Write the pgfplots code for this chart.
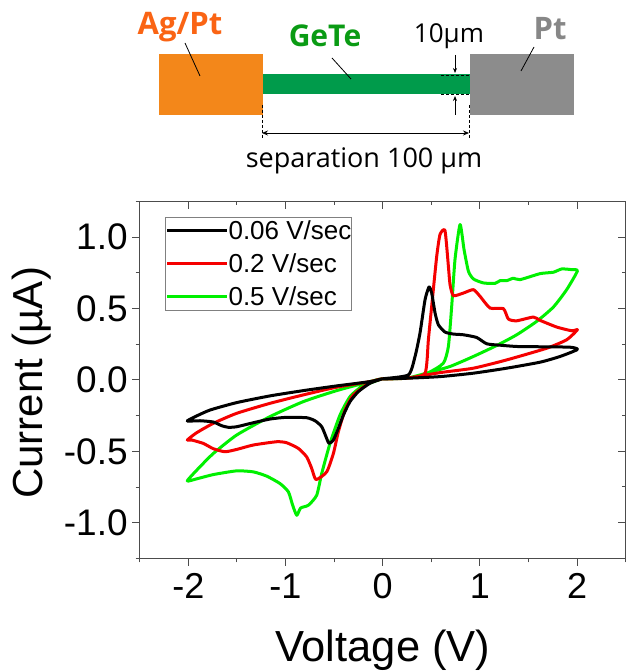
\documentclass[border=0pt]{standalone}
\usepackage{pgfplots}
\pgfplotsset{compat=1.18}
\usepackage{fontspec}
\setmainfont{Liberation Sans}
\newfontfamily\tah{Open Sans}
\usetikzlibrary{arrows.meta}
\definecolor{agc}{RGB}{243,135,26}
\definecolor{agt}{RGB}{250,100,20}
\definecolor{gete}{RGB}{0,155,75}
\definecolor{getet}{RGB}{10,155,20}
\definecolor{ptc}{RGB}{140,140,140}
\definecolor{ptt}{RGB}{135,135,135}
\definecolor{lg}{RGB}{0,240,0}
\definecolor{rd}{RGB}{245,0,0}
\pgfplotstableread{
V I
0.000 0.000
0.254 0.005
0.477 0.044
0.631 0.110
0.683 0.227
0.717 0.508
0.751 0.836
0.803 1.081
0.844 0.906
0.889 0.754
0.940 0.700
1.043 0.672
1.163 0.669
1.214 0.688
1.283 0.688
1.352 0.705
1.420 0.695
1.626 0.737
1.763 0.747
1.849 0.770
1.952 0.765
2.010 0.756
1.900 0.625
1.763 0.503
1.592 0.403
1.386 0.309
1.180 0.234
0.940 0.157
0.700 0.087
0.477 0.044
0.254 0.005
0.000 0.000
-0.123 -0.019
-0.466 -0.082
-0.809 -0.159
-1.152 -0.264
-1.495 -0.393
-1.735 -0.522
-1.889 -0.627
-2.003 -0.714
-1.907 -0.700
-1.735 -0.670
-1.495 -0.644
-1.324 -0.651
-1.186 -0.681
-1.049 -0.733
-0.963 -0.791
-0.919 -0.885
-0.877 -0.955
-0.837 -0.904
-0.758 -0.885
-0.672 -0.815
-0.620 -0.662
-0.535 -0.452
-0.432 -0.253
-0.329 -0.124
-0.209 -0.054
-0.054 -0.012
0.000 0.000
}\greendata
\pgfplotstableread{
V I
0.000 0.000
0.254 0.005
0.443 0.040
0.477 0.274
0.511 0.508
0.563 0.859
0.597 1.011
0.648 1.039
0.683 0.789
0.700 0.660
0.734 0.583
0.837 0.601
0.940 0.625
1.009 0.578
1.112 0.496
1.249 0.492
1.300 0.419
1.386 0.407
1.557 0.433
1.626 0.410
1.798 0.363
1.952 0.337
2.010 0.344
1.900 0.274
1.695 0.215
1.283 0.133
0.940 0.075
0.597 0.044
0.254 0.005
0.000 0.000
-0.123 -0.019
-0.466 -0.058
-0.809 -0.112
-1.152 -0.171
-1.495 -0.241
-1.735 -0.311
-1.907 -0.377
-2.003 -0.428
-1.958 -0.428
-1.838 -0.452
-1.735 -0.489
-1.615 -0.510
-1.495 -0.494
-1.324 -0.463
-1.083 -0.440
-0.981 -0.447
-0.860 -0.487
-0.775 -0.546
-0.723 -0.627
-0.679 -0.705
-0.569 -0.651
-0.500 -0.522
-0.449 -0.370
-0.380 -0.218
-0.294 -0.112
-0.123 -0.026
0.000 0.000
}\reddata
\pgfplotstableread{
V I
0.000 0.000
0.271 0.005
0.597 0.016
0.940 0.040
1.283 0.075
1.626 0.117
1.832 0.157
2.010 0.206
1.935 0.222
1.626 0.225
1.386 0.227
1.214 0.236
1.077 0.246
0.974 0.290
0.837 0.309
0.734 0.314
0.648 0.328
0.580 0.379
0.546 0.461
0.511 0.602
0.484 0.644
0.443 0.555
0.391 0.321
0.340 0.157
0.271 0.028
0.000 0.000
-0.123 -0.019
-0.466 -0.049
-0.809 -0.082
-1.152 -0.119
-1.495 -0.166
-1.769 -0.218
-1.924 -0.265
-2.003 -0.295
-1.872 -0.293
-1.735 -0.302
-1.649 -0.328
-1.581 -0.339
-1.495 -0.335
-1.324 -0.307
-1.152 -0.281
-0.981 -0.269
-0.775 -0.272
-0.689 -0.293
-0.620 -0.335
-0.569 -0.417
-0.545 -0.452
-0.500 -0.428
-0.449 -0.346
-0.397 -0.253
-0.329 -0.159
-0.243 -0.089
-0.123 -0.030
0.000 0.000
}\blackdata
\pgfplotsset{common/.style={
  at={(139.7pt,113.6pt)},anchor=south west,
  scale only axis,width=486pt,height=357pt,
  xmin=-2.5,xmax=2.5,ymin=-1.25,ymax=1.25,
  axis line style={line width=1.1pt,black!70},
  tick style={line width=1pt,black!70},
  xtick={-2,-1,0,1,2},minor xtick={-2.5,-1.5,-0.5,0.5,1.5,2.5},
  ytick={-1,-0.5,0,0.5,1},minor ytick={-1.25,-0.75,-0.25,0.25,0.75,1.25},
  major tick length=7.5pt,minor tick length=4pt,
}}
\begin{document}
\begin{tikzpicture}[x=1pt,y=1pt]
\begin{axis}[common,
  tick align=inside,
  axis x line*=top,axis y line*=right,
  xticklabels={},yticklabels={},
]
\addplot[draw=none,forget plot] coordinates {(0,0)};
\end{axis}
\begin{axis}[common,
  tick align=outside,
  axis x line*=bottom,axis y line*=left,
  /pgf/number format/assume math mode=true,
  /pgf/number format/fixed,/pgf/number format/fixed zerofill,
  /pgf/number format/precision=1,
  yticklabel style={font=\fontsize{37}{37}\selectfont,xshift=-1pt},
  xticklabel style={font=\fontsize{36}{36}\selectfont,yshift=-4pt,/pgf/number format/precision=0,/pgf/number format/fixed zerofill=false},
  xlabel={Voltage (V)},ylabel={Current (µA)},
  xlabel style={font=\fontsize{43.5}{43.5}\selectfont,yshift=-24pt},
  ylabel style={font=\fontsize{42}{42}\selectfont,yshift=6pt,xshift=-3pt},
  legend style={at={(25.5pt,341.5pt)},anchor=north west,draw=black!50,line width=.7pt,
    font=\fontsize{26}{26}\selectfont,inner xsep=0pt,inner ysep=3.5pt,row sep=13pt,fill=none,
    nodes={inner ysep=0pt,inner xsep=0pt,text height=19pt,text depth=1pt},
    /tikz/every even column/.append style={column sep=10pt}},
  legend cell align=left,
  legend image code/.code={\draw[#1,line width=3pt] (0pt,0pt)--(60pt,0pt);},
]
\addlegendimage{black}\addlegendentry{0.06 V/sec}
\addlegendimage{rd}\addlegendentry{0.2 V/sec}
\addlegendimage{lg}\addlegendentry{0.5 V/sec}
\addplot[lg,line width=3pt,line join=round,smooth,tension=0.35,forget plot,xshift=-.7pt,yshift=1pt] table[x=V,y=I]{\greendata};
\addplot[rd,line width=3pt,line join=round,smooth,tension=0.35,forget plot,xshift=-.7pt,yshift=1pt] table[x=V,y=I]{\reddata};
\addplot[black,line width=3pt,line join=round,smooth,tension=0.35,forget plot,xshift=-.7pt,yshift=1pt] table[x=V,y=I]{\blackdata};
\end{axis}
% schematic
\fill[agc] (158.5,557) rectangle (262.5,618);
\fill[gete] (262.5,577.5) rectangle (470,598);
\fill[ptc] (470,557) rectangle (574,618);
\draw[line width=.8pt] (185,629)--(200,596);
\draw[line width=.8pt] (332,614)--(351,593);
\draw[line width=.8pt] (534,625)--(521,601);
\draw[line width=.6pt,densely dashed] (441,597)--(470,597) (441,577.5)--(470,577.5);
\draw[-{Stealth[length=5pt,width=4pt]},line width=.7pt] (455,617)--(455,599);
\draw[-{Stealth[length=5pt,width=4pt]},line width=.7pt] (455,557)--(455,576);
\draw[line width=.6pt,densely dashed] (262,567)--(262,533) (469,567)--(469,533);
\draw[{Stealth[length=6pt,width=5pt]}-{Stealth[length=6pt,width=5pt]},line width=.8pt] (262,539)--(469,539);
\node[anchor=base,inner sep=0pt,font=\tah\fontsize{27}{27}\selectfont] at (364,504) {separation 100 µm};
\node[anchor=base,inner sep=0pt,font=\tah\fontsize{26}{26}\selectfont] at (449,629) {10µm};
\node[anchor=base,inner sep=0pt,font=\tah\bfseries\fontsize{31}{31}\selectfont,text=agt] at (180,637) {Ag/Pt};
\node[anchor=base,inner sep=0pt,font=\tah\bfseries\fontsize{30}{30}\selectfont,text=getet] at (325,625) {GeTe};
\node[anchor=base,inner sep=0pt,font=\tah\bfseries\fontsize{31}{31}\selectfont,text=ptt] at (550,632) {Pt};
\pgfresetboundingbox
\path[use as bounding box] (0,0) rectangle (625,672);
\end{tikzpicture}
\end{document}
